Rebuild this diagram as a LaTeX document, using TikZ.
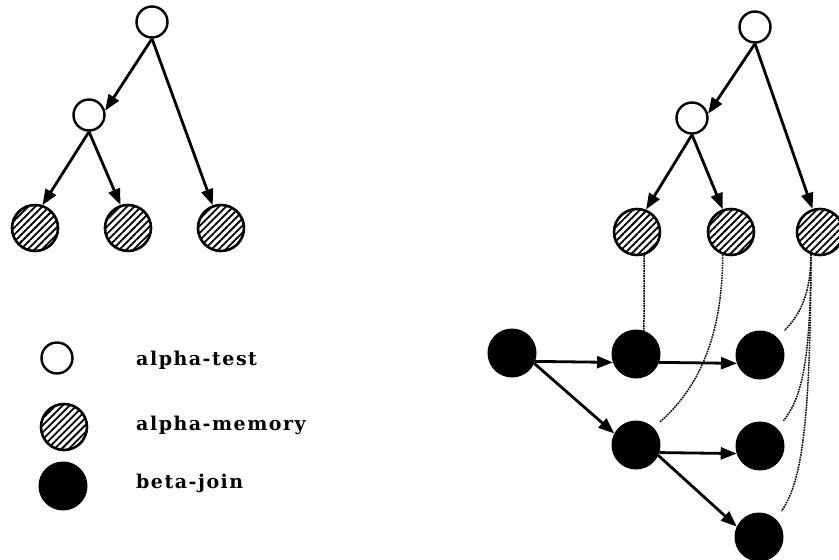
\documentclass[tikz,border=0pt]{standalone}
\usepackage{fontspec}
\setmainfont{DejaVu Serif}
\newfontfamily\legendfont[LetterSpace=8]{DejaVu Serif}
\usetikzlibrary{arrows.meta,patterns.meta}

\begin{document}
\begin{tikzpicture}[x=1pt,y=-1pt,
  atest/.style={circle,draw,line width=2.4pt,fill=white,minimum size=31pt,inner sep=0pt},
  amem/.style={circle,draw,line width=2.6pt,minimum size=46pt,inner sep=0pt,
    pattern={Lines[angle=45,distance=5pt,line width=1.8pt]}},
  bjoin/.style={circle,draw,line width=1pt,fill=black,minimum size=48pt,inner sep=0pt},
  flow/.style={line width=2.8pt,-{Triangle[length=16pt,width=12pt]}},
  link/.style={line width=1.5pt,dash pattern=on 1.6pt off 0.9pt},
  legendtext/.style={anchor=base west,inner sep=0pt,font=\legendfont\bfseries\fontsize{19}{22}\selectfont}]
\useasboundingbox (0,0) rectangle (839,560);

% alpha network on its own
\node[atest] (la) at (152,22) {};
\node[atest] (lb) at (89,115) {};
\node[amem] (l1) at (35,228) {};
\node[amem] (l2) at (128,228) {};
\node[amem] (l3) at (221,228) {};
\draw[flow] (la.south) -- (lb.15);
\draw[flow] (la.south) -- (l3.110);
\draw[flow] (lb.south) -- (l1.72);
\draw[flow] (lb.south) -- (l2.108);

% legend
\node[atest] (ka) at (57,358) {};
\node[amem] (km) at (64,427) {};
\node[bjoin] (kb) at (63,486) {};
\node[legendtext] (ta) at (136,365) {alpha-test};
\node[legendtext] (tm) at (136,430) {alpha-memory};
\node[legendtext] (tb) at (136,488) {beta-join};

% alpha network feeding the beta network
\node[atest] (ra) at (755,27) {};
\node[atest] (rb) at (692,118) {};
\node[amem] (m1) at (637,232) {};
\node[amem] (m2) at (731,232) {};
\node[amem] (m3) at (820,232) {};
\draw[flow] (ra.south) -- (rb.15);
\draw[flow] (ra.south) -- (m3.108);
\draw[flow] (rb.south) -- (m1.68);
\draw[flow] (rb.south) -- (m2.110);

% beta network
\node[bjoin] (b0) at (512,353) {};
\node[bjoin] (b1) at (636,354) {};
\node[bjoin] (b2) at (760,355) {};
\node[bjoin] (b3) at (636,445) {};
\node[bjoin] (b4) at (760,446) {};
\node[bjoin] (b5) at (759,537) {};
\draw[flow] (b0.-20) -- (b1.-160);
\draw[flow] (b1.-20) -- (b2.-160);
\draw[flow] (b0.-25) -- (b3.152);
\draw[flow] (b3.-18) -- (b4.-162);
\draw[flow] (b3.-25) -- (b5.155);

% memory links into the joins
\draw[link] (m1.-73) -- (b1.71);
\draw[link,shorten >=9pt] (m2.-110) .. controls +(0,100) and +(32,-28) .. (b3.45);
\draw[link,shorten >=10pt] (m3.-112) .. controls +(0,35) and +(25,-25) .. (b2.45);
\draw[link,shorten >=10pt] (m3.-112) .. controls +(0,115) and +(22,-28) .. (b4.45);
\draw[link,shorten >=10pt] (m3.-112) .. controls +(0,200) and +(20,-32) .. (b5.45);
\end{tikzpicture}
\end{document}
